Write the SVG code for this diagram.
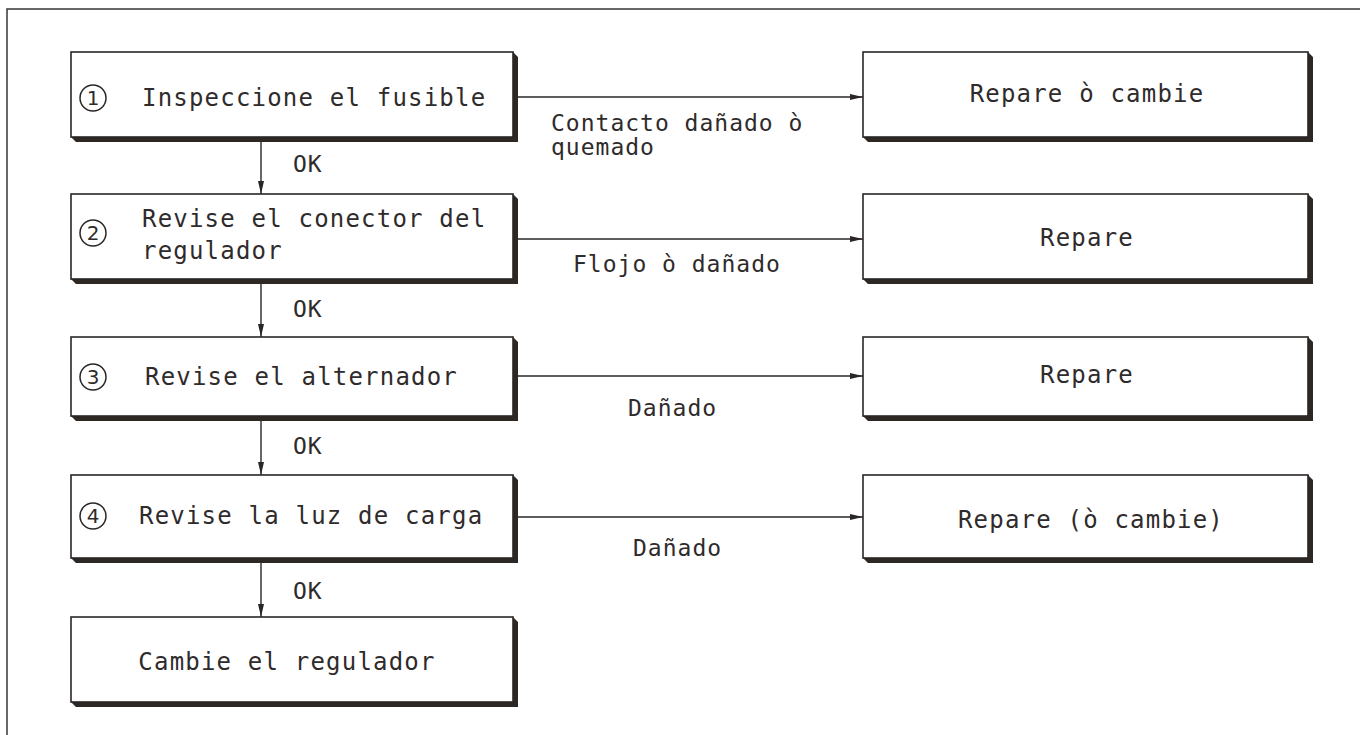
<svg xmlns="http://www.w3.org/2000/svg" width="1360" height="735" viewBox="0 0 1360 735">
<defs>
<marker id="ah" viewBox="0 0 13 6" refX="13" refY="3" markerWidth="13" markerHeight="6" markerUnits="userSpaceOnUse" orient="auto">
<path d="M0,0 L13,3 L0,6 Z" fill="#2a2626"/>
</marker>
<style>
.box{fill:#fff;stroke:#2a2626;stroke-width:1.6}
.sh{fill:#2e2824}
.t{font-family:"DejaVu Sans Mono","Liberation Mono",monospace;font-size:24px;letter-spacing:1.2px;fill:#2f2b2b}
.l{font-family:"DejaVu Sans Mono","Liberation Mono",monospace;font-size:23px;letter-spacing:1px;fill:#2f2b2b}
.n{font-family:"DejaVu Sans","Liberation Sans",sans-serif;font-size:20px;fill:#2f2b2b;text-anchor:middle}
.c{fill:none;stroke:#2a2626;stroke-width:1.5}
.e{stroke:#2a2626;stroke-width:1.4;fill:none}
.m{text-anchor:middle}
</style>
</defs>
<rect width="1360" height="735" fill="#fff"/>
<g id="frame">
<path d="M7,735 L7,9 L1360,9" fill="none" stroke="#3a3636" stroke-width="1.5"/>
</g>
<g id="connectors">
<line class="e" x1="513" y1="97" x2="863" y2="97" marker-end="url(#ah)"/>
<line class="e" x1="513" y1="239" x2="863" y2="239" marker-end="url(#ah)"/>
<line class="e" x1="513" y1="376" x2="863" y2="376" marker-end="url(#ah)"/>
<line class="e" x1="513" y1="517" x2="863" y2="517" marker-end="url(#ah)"/>
<line class="e" x1="261" y1="140" x2="261" y2="194" marker-end="url(#ah)"/>
<line class="e" x1="261" y1="282" x2="261" y2="337" marker-end="url(#ah)"/>
<line class="e" x1="261" y1="419" x2="261" y2="475" marker-end="url(#ah)"/>
<line class="e" x1="261" y1="561" x2="261" y2="617" marker-end="url(#ah)"/>
<text class="l" x="551" y="131">Contacto dañado ò</text>
<text class="l" x="551" y="155">quemado</text>
<text class="l" x="573" y="272">Flojo ò dañado</text>
<text class="l" x="628" y="416">Dañado</text>
<text class="l" x="633" y="556">Dañado</text>
<text class="l" x="293" y="172">OK</text>
<text class="l" x="293" y="317">OK</text>
<text class="l" x="293" y="454">OK</text>
<text class="l" x="293" y="599">OK</text>
</g>
<g id="n1">
<polygon class="sh" points="513,52 518,57 518,142 76,142 71,137 513,137"/>
<rect class="box" x="71" y="52" width="442" height="85"/>
<circle class="c" cx="93" cy="98" r="13"/>
<text class="n" x="93" y="105">1</text>
<text class="t" x="142" y="106">Inspeccione el fusible</text>
</g>
<g id="n2">
<polygon class="sh" points="513,194 518,199 518,284 76,284 71,279 513,279"/>
<rect class="box" x="71" y="194" width="442" height="85"/>
<circle class="c" cx="93" cy="233" r="13"/>
<text class="n" x="93" y="240">2</text>
<text class="t" x="142" y="227">Revise el conector del</text>
<text class="t" x="142" y="259">regulador</text>
</g>
<g id="n3">
<polygon class="sh" points="513,337 518,342 518,421 76,421 71,416 513,416"/>
<rect class="box" x="71" y="337" width="442" height="79"/>
<circle class="c" cx="93" cy="377" r="13"/>
<text class="n" x="93" y="384">3</text>
<text class="t" x="145" y="385">Revise el alternador</text>
</g>
<g id="n4">
<polygon class="sh" points="513,475 518,480 518,563 76,563 71,558 513,558"/>
<rect class="box" x="71" y="475" width="442" height="83"/>
<circle class="c" cx="93" cy="516" r="13"/>
<text class="n" x="93" y="523">4</text>
<text class="t" x="139" y="524">Revise la luz de carga</text>
</g>
<g id="n5">
<polygon class="sh" points="513,617 518,622 518,707 76,707 71,702 513,702"/>
<rect class="box" x="71" y="617" width="442" height="85"/>
<text class="t m" x="287" y="670">Cambie el regulador</text>
</g>
<g id="r1">
<polygon class="sh" points="1308,52 1313,57 1313,142 868,142 863,137 1308,137"/>
<rect class="box" x="863" y="52" width="445" height="85"/>
<text class="t m" x="1087" y="102">Repare ò cambie</text>
</g>
<g id="r2">
<polygon class="sh" points="1308,194 1313,199 1313,284 868,284 863,279 1308,279"/>
<rect class="box" x="863" y="194" width="445" height="85"/>
<text class="t m" x="1087" y="246">Repare</text>
</g>
<g id="r3">
<polygon class="sh" points="1308,337 1313,342 1313,421 868,421 863,416 1308,416"/>
<rect class="box" x="863" y="337" width="445" height="79"/>
<text class="t m" x="1087" y="383">Repare</text>
</g>
<g id="r4">
<polygon class="sh" points="1308,475 1313,480 1313,563 868,563 863,558 1308,558"/>
<rect class="box" x="863" y="475" width="445" height="83"/>
<text class="t m" x="1091" y="528">Repare (ò cambie)</text>
</g>
</svg>
